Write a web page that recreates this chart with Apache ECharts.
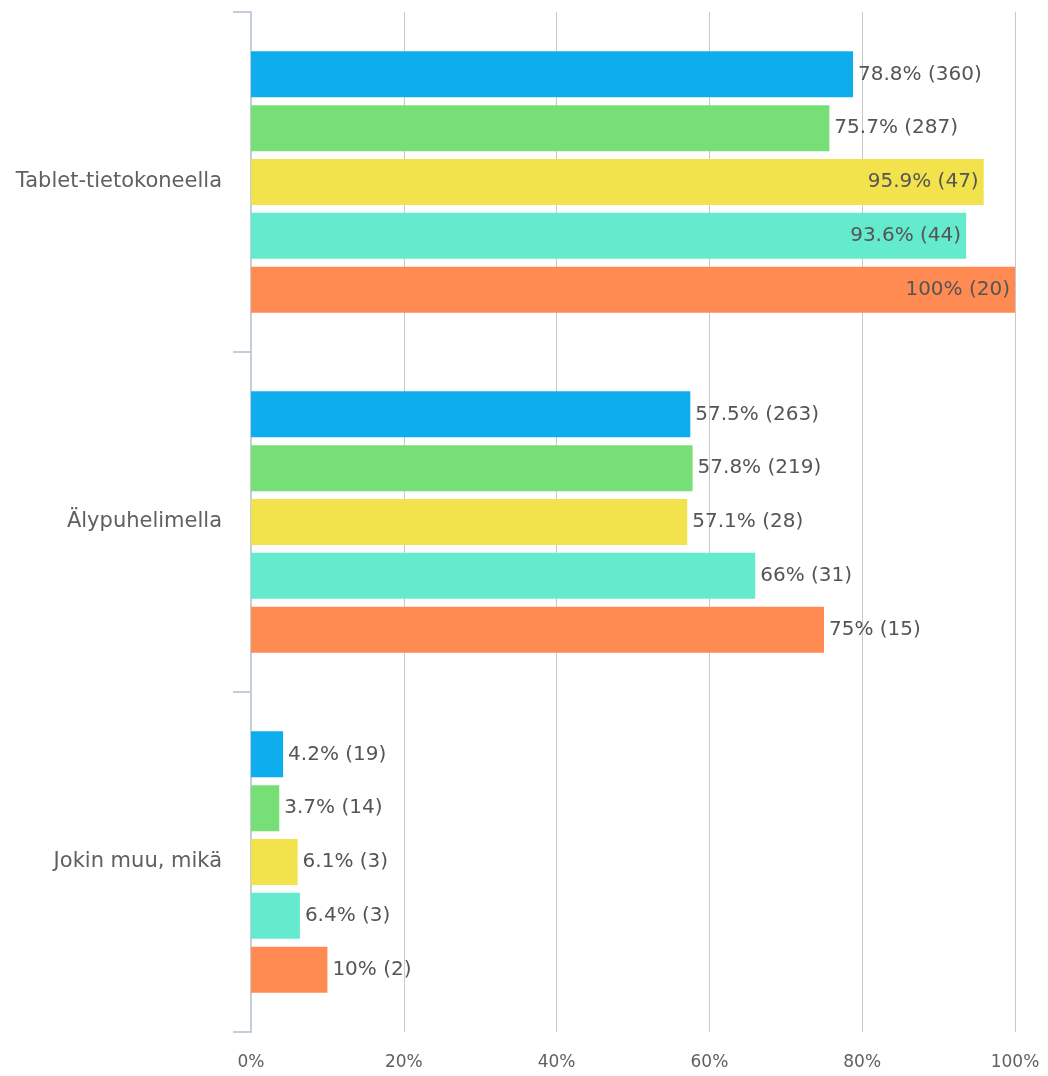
<!DOCTYPE html>
<html>
<head>
<meta charset="utf-8">
<script src="https://cdn.jsdelivr.net/npm/echarts@6/dist/echarts.min.js"></script>
<style>
  html, body { margin: 0; padding: 0; background: #fff; }
  #chart { width: 1048px; height: 1076px; }
</style>
</head>
<body>
<div id="chart"></div>
<script>
const categories = ["Tablet-tietokoneella", "Älypuhelimella", "Jokin muu, mikä"];
const xTicks = [0, 20, 40, 60, 80, 100];

// percentages and respondent counts per group
const pct1 = [78.8, 57.5, 4.2];
const cnt1 = [360, 263, 19];
const pct2 = [75.7, 57.8, 3.7];
const cnt2 = [287, 219, 14];
const pct3 = [95.9, 57.1, 6.1];
const cnt3 = [47, 28, 3];
const pct4 = [93.6, 66, 6.4];
const cnt4 = [44, 31, 3];
const pct5 = [100, 75, 10];
const cnt5 = [20, 15, 2];

const colors = ["#0eaeee", "#76e076", "#f2e24c", "#64eacc", "#ff8a52"];
const font = "DejaVu Sans";

function makeSeries(name, pct, cnt, color) {
  return {
    name: name,
    type: "bar",
    barWidth: 46,
    barGap: "17%",
    itemStyle: { color: color },
    data: pct.map(function (v, i) {
      return {
        value: v,
        count: cnt[i],
        label: { position: v > 90 ? "insideRight" : "right" }
      };
    }),
    label: {
      show: true,
      distance: 5,
      color: "#555",
      fontFamily: font,
      fontSize: 20,
      formatter: function (p) {
        return p.value + "% (" + p.data.count + ")";
      }
    }
  };
}

const chart = echarts.init(document.getElementById("chart"));
chart.setOption({
  animation: false,
  grid: { left: 251, right: 33, top: 12, bottom: 44 },
  xAxis: {
    type: "value",
    min: xTicks[0],
    max: xTicks[xTicks.length - 1],
    interval: 20,
    axisLine: { show: false },
    axisTick: { show: false },
    splitLine: { lineStyle: { color: "#c8c8c8" } },
    axisLabel: {
      margin: 22,
      color: "#606060",
      fontFamily: font,
      fontSize: 17,
      formatter: "{value}%"
    }
  },
  yAxis: {
    type: "category",
    inverse: true,
    data: categories,
    axisLine: { show: true, lineStyle: { color: "#c4ceda", width: 2 } },
    axisTick: { show: true, length: 18, lineStyle: { color: "#c4ceda", width: 2 } },
    axisLabel: {
      margin: 29,
      color: "#606060",
      fontFamily: font,
      fontSize: 21
    }
  },
  series: [
    makeSeries("Ryhmä 1", pct1, cnt1, colors[0]),
    makeSeries("Ryhmä 2", pct2, cnt2, colors[1]),
    makeSeries("Ryhmä 3", pct3, cnt3, colors[2]),
    makeSeries("Ryhmä 4", pct4, cnt4, colors[3]),
    makeSeries("Ryhmä 5", pct5, cnt5, colors[4])
  ]
});
</script>
</body>
</html>
